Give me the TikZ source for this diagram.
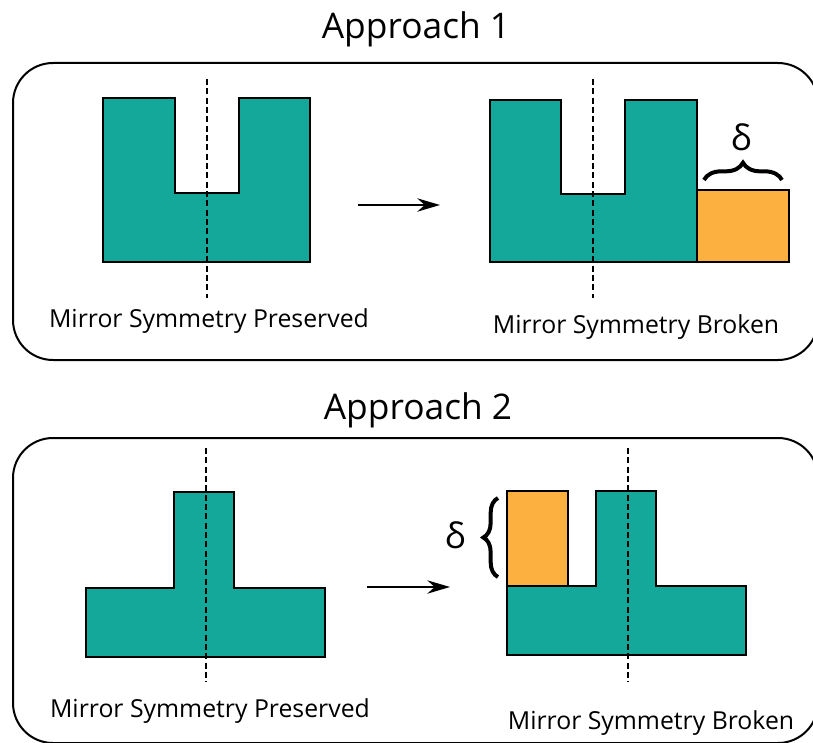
\documentclass[tikz,border=0pt]{standalone}
\usepackage{fontspec}
\setsansfont{Open Sans}
\usetikzlibrary{positioning, arrows.meta, decorations.pathreplacing}
\definecolor{tealpart}{RGB}{20,168,155}
\definecolor{orangepart}{RGB}{251,176,64}

\begin{document}
\begin{tikzpicture}[x=0.75pt, y=-0.75pt, >={Stealth[length=17pt, width=10pt]}, font=\sffamily,
    part/.style={draw, line width=1.5pt, fill=tealpart},
    added/.style={draw, line width=1.5pt, fill=orangepart},
    mirror/.style={line width=1.2pt, dash pattern=on 4.5pt off 2.5pt},
    panel/.style={line width=1.5pt, rounded corners=30pt},
    caption/.style={font=\sffamily\fontsize{18.6}{21}\selectfont},
    heading/.style={font=\sffamily\fontsize{26.5}{32}\selectfont},
    bracket/.style={decorate, decoration={brace, amplitude=#1}, line width=3pt}]
    \useasboundingbox (0,0) rectangle (813,742);
    \clip (0,0) rectangle (813,742);

    % Approach 1
    \node[heading] (title1) at (416,29) {Approach 1};
    \draw[panel] (13,63) rectangle (818,360);

    % U shape, symmetric
    \draw[part] (103,98) -- (175,98) -- (175,193) -- (239,193) -- (239,98) -- (310,98) -- (310,262) -- (103,262) -- cycle;
    \draw[mirror] (207,79) -- (207,298);
    \node[caption] (keep1) at (209,321) {Mirror Symmetry Preserved};

    % Arrow
    \coordinate (from1) at (358,205);
    \coordinate (to1) at (440,205);
    \draw[->, line width=1.5pt] (from1) -- (to1);

    % U shape with block on the side
    \draw[part] (490,100) -- (561,100) -- (561,194) -- (625,194) -- (625,100) -- (697,100) -- (697,262) -- (490,262) -- cycle;
    \draw[added] (697,190) rectangle (789,262);
    \draw[mirror] (593,79) -- (593,298);
    \coordinate (brace1a) at (704,180);
    \coordinate (brace1b) at (782,180);
    \draw[bracket=13pt] (brace1a) -- (brace1b);
    \node[heading] (delta1) at (741,137) {δ};
    \node[caption] (broken1) at (636,327) {Mirror Symmetry Broken};

    % Approach 2
    \node[heading] (title2) at (418,410) {Approach 2};
    \draw[panel] (13,438) rectangle (818,743);

    % T shape, symmetric
    \draw[part] (174,492) -- (234,492) -- (234,588) -- (325,588) -- (325,657) -- (86,657) -- (86,588) -- (174,588) -- cycle;
    \draw[mirror] (206,448) -- (206,682);
    \node[caption] (keep2) at (210,711) {Mirror Symmetry Preserved};

    % Arrow
    \coordinate (from2) at (367,587);
    \coordinate (to2) at (450,587);
    \draw[->, line width=1.5pt] (from2) -- (to2);

    % T shape with column on top
    \draw[added] (507,491) rectangle (568,586);
    \draw[part] (507,586) -- (596,586) -- (596,491) -- (656,491) -- (656,586) -- (746,586) -- (746,655) -- (507,655) -- cycle;
    \draw[mirror] (628,448) -- (628,682);
    \coordinate (brace2a) at (498,577);
    \coordinate (brace2b) at (498,498);
    \draw[bracket=11pt] (brace2a) -- (brace2b);
    \node[heading] (delta2) at (455,535) {δ};
    \node[caption] (broken2) at (651,723) {Mirror Symmetry Broken};
\end{tikzpicture}
\end{document}
